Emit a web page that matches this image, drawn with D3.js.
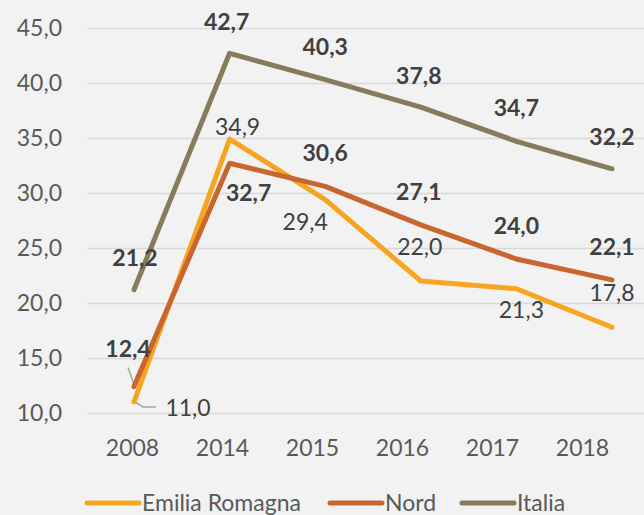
<!DOCTYPE html>
<html>
<head>
<meta charset="utf-8">
<script src="https://cdn.jsdelivr.net/npm/d3@7"></script>
<style>
  body { margin: 0; background: #f2f2f2; }
  svg { display: block; font-family: Lato, "Open Sans", sans-serif; }
</style>
</head>
<body>
<div id="chart"></div>
<script>
const years = ["2008", "2014", "2015", "2016", "2017", "2018"];
const emilia = [11.0, 34.9, 29.4, 22.0, 21.3, 17.8];
const nord = [12.4, 32.7, 30.6, 27.1, 24.0, 22.1];
const italia = [21.2, 42.7, 40.3, 37.8, 34.7, 32.2];
const seriesNames = ["Emilia Romagna", "Nord", "Italia"];
const yTicks = [10, 15, 20, 25, 30, 35, 40, 45];

// label offsets from each point (dx, dy)
const emiliaLab = [[54, 6], [8, -12], [-20, 22], [-1, -34], [5, 21], [0, -34]];
const nordLab = [[-6, -38], [19, 30], [0, -33], [-2, -33], [0, -33], [0, -33]];
const italiaLab = [[1, -32], [-3, -31], [0, -33], [-2, -31], [0, -33], [0, -32]];

const width = 644, height = 515;
const colors = ["#f7a521", "#c9652f", "#877b5e"];
const fontSize = "23px";

const svg = d3.select("#chart").append("svg")
    .attr("width", width)
    .attr("height", height);

svg.append("rect").attr("width", width).attr("height", height).attr("fill", "#f2f2f2");

const y = d3.scaleLinear().domain([10, 45]).range([413, 28]);
const x = d3.scalePoint().domain(years).range([134, 612]);
const xLab = d3.scalePoint().domain(years).range([132, 582]);
const fmt = v => d3.format(".1f")(v).replace(".", ",");

// gridlines
svg.append("g")
  .attr("transform", "translate(87,0)")
  .call(d3.axisLeft(y).tickValues(yTicks).tickSize(-(width - 87)).tickFormat(""))
  .call(g => g.select(".domain").remove())
  .call(g => g.selectAll("line").attr("stroke", "#d9d9d9").attr("stroke-width", 1.5));

// y axis labels
svg.append("g")
  .attr("transform", "translate(62,0)")
  .call(d3.axisLeft(y).tickValues(yTicks).tickSize(0).tickPadding(0).tickFormat(fmt))
  .call(g => g.select(".domain").remove())
  .call(g => g.selectAll("text").attr("fill", "#595959").style("font-size", fontSize).style("font-family", "Lato, sans-serif"));

// x axis labels
svg.append("g")
  .attr("transform", "translate(0,448)")
  .call(d3.axisBottom(xLab).tickSize(0).tickPadding(0))
  .call(g => g.select(".domain").remove())
  .call(g => g.selectAll("text").attr("fill", "#595959").attr("dy", "0.35em")
      .style("font-size", fontSize).style("font-family", "Lato, sans-serif"));

const series = [
  { name: seriesNames[0], values: emilia, labs: emiliaLab, color: colors[0], bold: false },
  { name: seriesNames[1], values: nord, labs: nordLab, color: colors[1], bold: true },
  { name: seriesNames[2], values: italia, labs: italiaLab, color: colors[2], bold: true }
];

const line = d3.line()
  .x((d, i) => x(years[i]))
  .y(d => y(d));

// leader lines for the 2008 labels
svg.append("path")
  .attr("d", `M${x("2008") + 1},${y(11.0)} L${x("2008") + 9},${y(11.0) + 5} L${x("2008") + 22},${y(11.0) + 5}`)
  .attr("fill", "none").attr("stroke", "#a6a6a6").attr("stroke-width", 1.5);
svg.append("path")
  .attr("d", `M${x("2008") - 6},${y(12.4) - 19} L${x("2008")},${y(12.4) - 2}`)
  .attr("fill", "none").attr("stroke", "#a6a6a6").attr("stroke-width", 1.5);

// draw from back to front: Italia, Emilia, Nord
[series[2], series[0], series[1]].forEach(s => {
  svg.append("path")
    .datum(s.values)
    .attr("d", line)
    .attr("fill", "none")
    .attr("stroke", s.color)
    .attr("stroke-width", 5)
    .attr("stroke-linejoin", "round")
    .attr("stroke-linecap", "round");
});

series.forEach(s => {
  svg.append("g").selectAll("text")
    .data(s.values)
    .join("text")
      .attr("x", (d, i) => x(years[i]) + s.labs[i][0])
      .attr("y", (d, i) => y(d) + s.labs[i][1])
      .attr("dy", "0.35em")
      .attr("text-anchor", "middle")
      .attr("fill", "#404040")
      .style("font-size", fontSize)
      .style("font-weight", s.bold ? "bold" : "normal")
      .text(fmt);
});

// legend
const legendX = [87, 330, 462];
const legend = svg.append("g").selectAll("g")
  .data(series)
  .join("g")
    .attr("transform", (d, i) => `translate(${legendX[i]},503)`);
legend.append("line")
  .attr("x1", 0).attr("x2", 52)
  .attr("stroke", d => d.color)
  .attr("stroke-width", 5)
  .attr("stroke-linecap", "round");
legend.append("text")
  .attr("x", 55)
  .attr("dy", "0.35em")
  .attr("fill", "#595959")
  .style("font-size", fontSize)
  .text(d => d.name);
</script>
</body>
</html>
